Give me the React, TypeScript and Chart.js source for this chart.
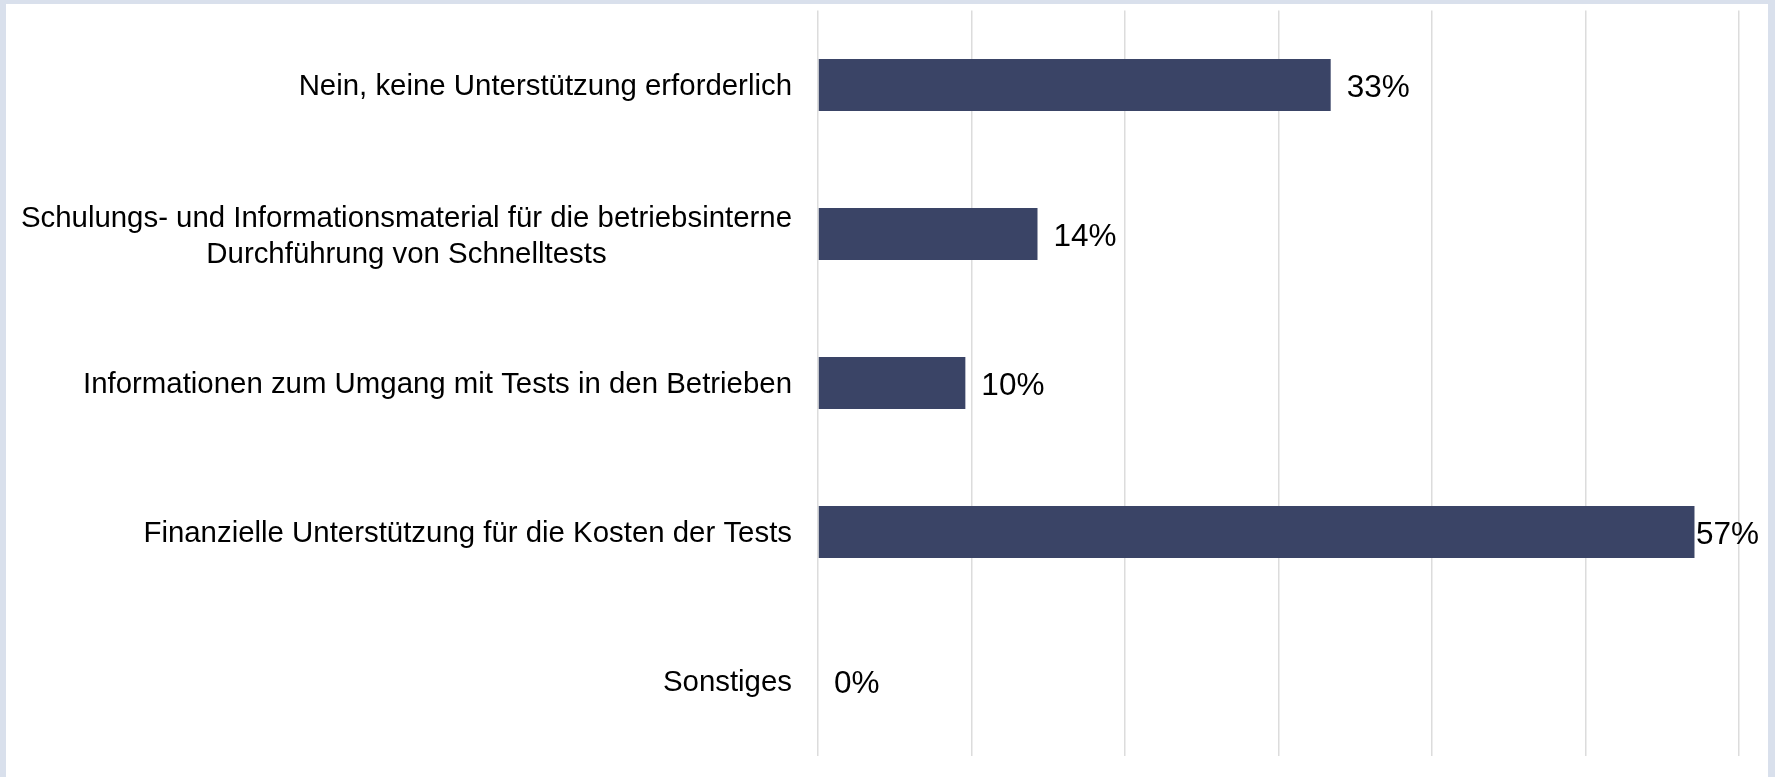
import React, { useEffect, useRef } from "react";
import { Chart, registerables } from "chart.js";

Chart.register(...registerables);

const FONT = '"Liberation Sans", Arial, Helvetica, sans-serif';

const categories: string[][] = [
  ["Nein, keine Unterstützung erforderlich"],
  ["Schulungs- und Informationsmaterial für die betriebsinterne", "Durchführung von Schnelltests"],
  ["Informationen zum Umgang mit Tests in den Betrieben"],
  ["Finanzielle Unterstützung für die Kosten der Tests"],
  ["Sonstiges"],
];
const values: number[] = [33.4, 14.3, 9.6, 57.1, 0];
const valueLabels: string[] = ["33%", "14%", "10%", "57%", "0%"];
const xMin = 0;
const xMax = 60;
const xStep = 10;

const BAR_COLOR = "#3a4466";
const GRID_COLOR = "#dcdcdc";

const labelPlugin = {
  id: "customLabels",
  afterDatasetsDraw(chart: any) {
    const { ctx, chartArea, scales } = chart;
    const y = scales.y;
    const x = scales.x;
    ctx.save();
    ctx.fillStyle = "#000";
    ctx.textBaseline = "middle";
    // category labels
    ctx.font = `29.4px ${FONT}`;
    categories.forEach((lines, i) => {
      const cy = y.getPixelForValue(i) + (lines.length > 1 ? 3 : 1.5);
      const widths = lines.map((l) => ctx.measureText(l).width);
      const w = Math.max(...widths);
      const right = chartArea.left - 26;
      const cx = right - w / 2;
      ctx.textAlign = "center";
      const lh = 36;
      lines.forEach((l, j) => {
        ctx.fillText(l, cx, cy + (j - (lines.length - 1) / 2) * lh);
      });
    });
    // value labels
    ctx.font = `31.5px ${FONT}`;
    ctx.textAlign = "left";
    values.forEach((v, i) => {
      const cy = y.getPixelForValue(i);
      const t = valueLabels[i];
      const tw = ctx.measureText(t).width;
      let lx = x.getPixelForValue(v) + 16;
      lx = Math.min(lx, chartArea.right + 20 - tw);
      ctx.fillText(t, lx, cy + 3);
    });
    ctx.restore();
  },
};

export default function App() {
  const canvasRef = useRef<HTMLCanvasElement | null>(null);

  useEffect(() => {
    document.body.style.margin = "0";
    const canvas = canvasRef.current;
    if (!canvas) return;
    const chart = new Chart(canvas, {
      type: "bar",
      data: {
        labels: categories.map((c) => c.join(" ")),
        datasets: [
          {
            data: values,
            backgroundColor: BAR_COLOR,
            borderWidth: 0,
            barPercentage: 0.35,
            categoryPercentage: 1,
          },
        ],
      },
      options: {
        indexAxis: "y",
        animation: false,
        responsive: true,
        maintainAspectRatio: false,
        layout: {
          padding: { left: 812, right: 29, top: 6.5, bottom: 21.5 },
        },
        plugins: {
          legend: { display: false },
          tooltip: { enabled: false },
        },
        scales: {
          x: {
            min: xMin,
            max: xMax,
            ticks: { display: false, stepSize: xStep },
            grid: { color: GRID_COLOR, lineWidth: 1.5, drawTicks: false },
            border: { display: false },
          },
          y: {
            display: false,
          },
        },
      },
      plugins: [labelPlugin],
    });
    return () => chart.destroy();
  }, []);

  return (
    <div
      style={{
        width: 1775,
        height: 777,
        boxSizing: "border-box",
        background: "#d9e0ec",
        padding: "4px 7px 0 6px",
      }}
    >
      <div style={{ position: "relative", width: 1762, height: 773, background: "#ffffff" }}>
        <canvas ref={canvasRef} />
      </div>
    </div>
  );
}
